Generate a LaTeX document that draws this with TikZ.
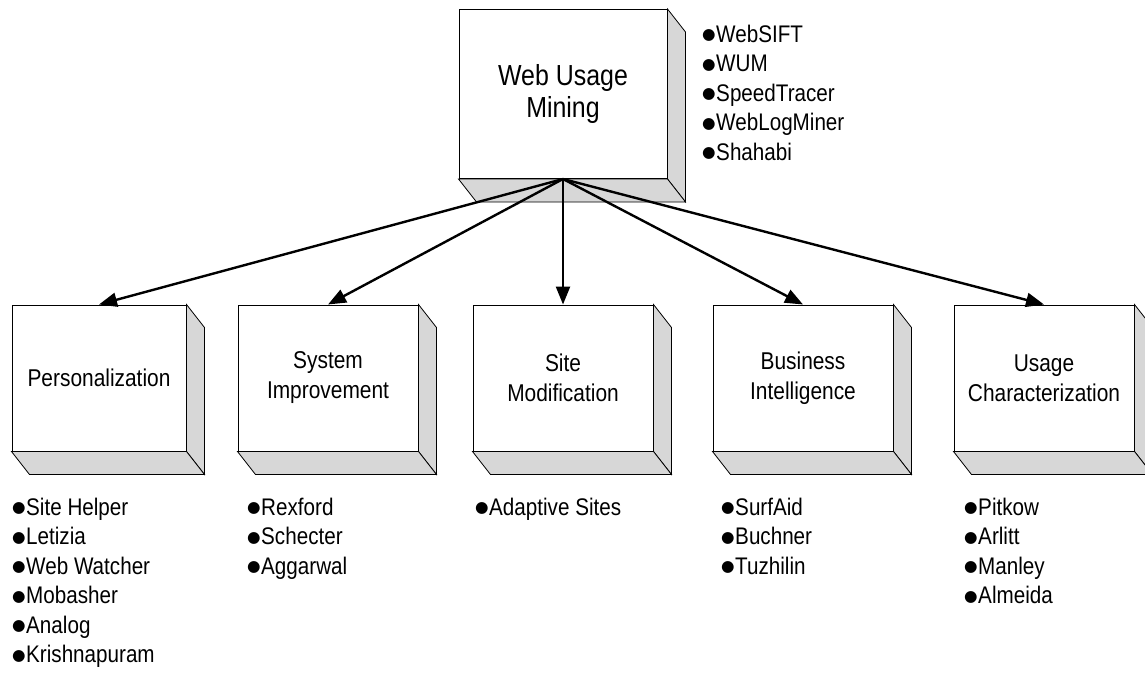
\documentclass[tikz,border=0pt]{standalone}
\usepackage{fontspec}
\setmainfont{Liberation Sans}[FakeStretch=0.86]
\newfontfamily\symf{DejaVu Sans}
\usetikzlibrary{arrows.meta}
\definecolor{sidegray}{RGB}{215,215,215}
\newcommand{\bl}{\raisebox{2.5pt}{\symf\fontsize{15.5}{15.5}\selectfont ●}\hspace{0.5pt}}
\newcommand{\sidefaces}[1]{%
  \filldraw[face] (#1.north east) -- ([shift={(18,23)}]#1.north east) -- ([shift={(18,23)}]#1.south east) -- (#1.south east) -- cycle;
  \filldraw[face] (#1.south west) -- ([shift={(18,23)}]#1.south west) -- ([shift={(18,23)}]#1.south east) -- (#1.south east) -- cycle;}
\tikzset{
  front/.style={draw=black, line width=1pt, fill=white, align=center, inner sep=0pt},
  bigbox/.style={front, minimum width=208pt, minimum height=169pt, font=\fontsize{29}{32}\selectfont},
  smallbox/.style={front, minimum width=180pt, minimum height=146pt, font=\fontsize{24.3}{30}\selectfont},
  face/.style={draw=black, line width=0.8pt, fill=sidegray, line join=miter},
  arr/.style={line width=2.4pt, -{Triangle[length=18pt,width=14pt]}},
  itemlist/.style={align=left, inner sep=0pt, anchor=base west, font=\fontsize{24}{29.5}\selectfont}
}
\begin{document}
\begin{tikzpicture}[x=1pt,y=-1pt]
\useasboundingbox (0,0) rectangle (1145,675);
% boxes
\node[bigbox] (wum) at (563,94) {Web Usage\\Mining};
\node[smallbox, minimum width=174pt] (pers) at (99,378) {Personalization};
\node[smallbox] (sysi) at (328,378) {System\\Improvement};
\node[smallbox] (sitem) at (563,378) {Site\\Modification};
\node[smallbox] (busi) at (803,378) {Business\\Intelligence};
\node[smallbox] (usage) at (1044,378) {Usage\\Characterization};
\sidefaces{wum}
\sidefaces{pers}
\sidefaces{sysi}
\sidefaces{sitem}
\sidefaces{busi}
\sidefaces{usage}
% arrows
\draw[arr] (wum.south) -- (pers.north);
\draw[arr] (wum.south) -- (sysi.north);
\draw[arr] (wum.south) -- (sitem.north);
\draw[arr] (wum.south) -- (busi.north);
\draw[arr] (wum.south) -- (usage.north);
% lists (anchor = baseline of the last line)
\node[itemlist] (lwum) at (702,160) {\bl WebSIFT\\ \bl WUM\\ \bl SpeedTracer\\ \bl WebLogMiner\\ \bl Shahabi};
\node[itemlist] (lpers) at (12,662.5) {\bl Site Helper\\ \bl Letizia\\ \bl Web Watcher\\ \bl Mobasher\\ \bl Analog\\ \bl Krishnapuram};
\node[itemlist] (lsysi) at (247,574) {\bl Rexford\\ \bl Schecter\\ \bl Aggarwal};
\node[itemlist] (lsitem) at (475,515) {\bl Adaptive Sites};
\node[itemlist] (lbusi) at (721,574) {\bl SurfAid\\ \bl Buchner\\ \bl Tuzhilin};
\node[itemlist] (lusage) at (964,603.5) {\bl Pitkow\\ \bl Arlitt\\ \bl Manley\\ \bl Almeida};
\end{tikzpicture}
\end{document}
